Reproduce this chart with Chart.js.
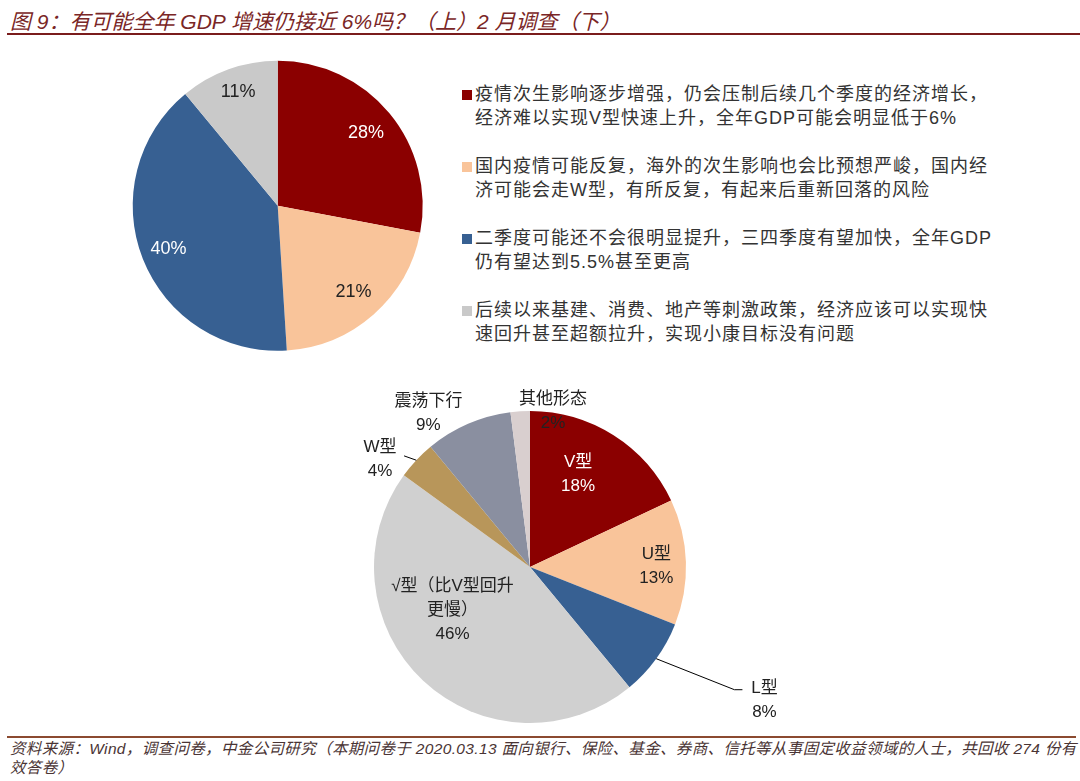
<!DOCTYPE html>
<html>
<head>
<meta charset="utf-8">
<script src="https://cdn.jsdelivr.net/npm/chart.js@4"></script>
<style>
  html, body { margin: 0; padding: 0; background: #fff; }
  body { width: 1080px; height: 781px; position: relative; overflow: hidden;
         font-family: "Liberation Sans", "Noto Sans CJK SC", sans-serif; }
  #title { position: absolute; left: 10px; top: 5px; font-size: 21px; font-style: italic;
           color: #7a2626; white-space: nowrap; }
  #title-line { position: absolute; left: 7px; right: 0; top: 33px; height: 2px; background: #7a1c1c; }
  #top-wrap { position: absolute; left: 0; top: 40px; }
  #bottom-wrap { position: absolute; left: 300px; top: 375px; }
  #legend { position: absolute; left: 462px; top: 82px; width: 600px; }
  .item { position: relative; height: 72px; }
  .item .box { position: absolute; left: 0; top: 8px; width: 10px; height: 10px; }
  .item .txt { position: absolute; left: 13px; top: 0; font-size: 18px; line-height: 24px;
               letter-spacing: 1px; color: #333; white-space: nowrap; }
  #foot-line { position: absolute; left: 7px; right: 4px; top: 736px; height: 2px; background: #8b4a30; }
  #foot { position: absolute; left: 10px; top: 739px; width: 1070px; font-size: 15.5px; line-height: 19px;
          letter-spacing: 0.35px; font-style: italic; color: #4a3434; white-space: nowrap; }
</style>
</head>
<body>
<div id="title">图 9：有可能全年 GDP 增速仍接近 6%吗？（上）2 月调查（下）</div>
<div id="title-line"></div>

<div id="top-wrap"><canvas id="chart-top" width="440" height="330"></canvas></div>
<div id="legend"></div>
<div id="bottom-wrap"><canvas id="chart-bottom" width="560" height="355"></canvas></div>

<div id="foot-line"></div>
<div id="foot">资料来源：Wind，调查问卷，中金公司研究（本期问卷于 2020.03.13 面向银行、保险、基金、券商、信托等从事固定收益领域的人士，共回收 274 份有<br>效答卷）</div>

<script>
// ---- 上图：全年 GDP 看法 ----
const topLabels = [
    ['疫情次生影响逐步增强，仍会压制后续几个季度的经济增长，', '经济难以实现V型快速上升，全年GDP可能会明显低于6%'],
    ['国内疫情可能反复，海外的次生影响也会比预想严峻，国内经', '济可能会走W型，有所反复，有起来后重新回落的风险'],
    ['二季度可能还不会很明显提升，三四季度有望加快，全年GDP', '仍有望达到5.5%甚至更高'],
    ['后续以来基建、消费、地产等刺激政策，经济应该可以实现快', '速回升甚至超额拉升，实现小康目标没有问题']
];
const topValues = [28, 21, 40, 11];
const topColors = ['#8B0000', '#F9C49A', '#376092', '#C9C9C9'];

// ---- 下图：经济走势形态 ----
const bottomLabels = ['V型', 'U型', 'L型', '√型（比V型回升\n更慢）', 'W型', '震荡下行', '其他形态'];
const bottomValues = [18, 13, 8, 46, 4, 9, 2];
const bottomColors = ['#8B0000', '#F9C49A', '#376092', '#D0D0D0', '#B8965A', '#8A8FA0', '#D9CFCF'];

const FONT = '"Liberation Sans", "Noto Sans CJK SC", sans-serif';

// 标签摆放：r = 半径倍数, da = 角度微调(度), leader = 引线折点(相对标签中心)
const topPlace = [
    { r: 0.79, da: 0, color: '#fff' },
    { r: 0.79, da: 0, color: '#222' },
    { r: 0.81, da: 0, color: '#fff' },
    { r: 0.83, da: 0.6, color: '#222' }
];
const bottomPlace = [
    { r: 0.67, da: -5, color: '#fff' },
    { r: 0.81, da: 1.3, color: '#222' },
    { r: 1.73, da: -6.3, color: '#222', leader: [[-30, -11], [-22, -11]] },
    { r: 0.57, da: 17.4, color: '#222' },
    { r: 1.185, da: -7.4, color: '#222', leader: [[24, -3]] },
    { r: 1.18, da: -10.1, color: '#222' },
    { r: 1.01, da: 12, color: '#222' }
];

/**
 * 自定义插件：在扇区上画百分比和名称
 */
const sliceLabels = {
    id: 'sliceLabels',
    afterDatasetsDraw(chart, args, opts) {
        const ctx = chart.ctx;
        const meta = chart.getDatasetMeta(0);
        const values = chart.data.datasets[0].data;
        meta.data.forEach((arc, i) => {
            const p = opts.place[i];
            const mid = (arc.startAngle + arc.endAngle) / 2 + p.da * Math.PI / 180;
            const rr = arc.outerRadius * p.r;
            const x = arc.x + Math.cos(mid) * rr;
            const y = arc.y + Math.sin(mid) * rr;

            // 引线
            if (p.leader) {
                const m0 = (arc.startAngle + arc.endAngle) / 2;
                ctx.save();
                ctx.strokeStyle = '#000';
                ctx.lineWidth = 1;
                ctx.beginPath();
                ctx.moveTo(arc.x + Math.cos(m0) * arc.outerRadius, arc.y + Math.sin(m0) * arc.outerRadius);
                p.leader.forEach(pt => ctx.lineTo(x + pt[0], y + pt[1]));
                ctx.stroke();
                ctx.restore();
            }

            const lines = [];
            if (opts.showName) lines.push(...chart.data.labels[i].split('\n'));
            lines.push(values[i] + '%');

            ctx.save();
            ctx.font = opts.fontSize + 'px ' + FONT;
            ctx.fillStyle = p.color;
            ctx.textAlign = 'center';
            ctx.textBaseline = 'middle';
            const lh = opts.lineHeight;
            const y0 = y - (lines.length - 1) * lh / 2;
            lines.forEach((t, k) => ctx.fillText(t, x, y0 + k * lh));
            ctx.restore();
        });
    }
};

function createPie(canvasId, labels, values, colors, padding, labelOpts) {
    const canvas = document.getElementById(canvasId);
    return new Chart(canvas.getContext('2d'), {
        type: 'pie',
        data: {
            labels: labels,
            datasets: [{
                data: values,
                backgroundColor: colors,
                borderWidth: 0
            }]
        },
        options: {
            responsive: false,
            animation: false,
            events: [],
            layout: { padding: padding },
            plugins: {
                legend: { display: false },
                tooltip: { enabled: false },
                sliceLabels: labelOpts
            }
        },
        plugins: [sliceLabels]
    });
}

createPie('chart-top', topLabels.map(l => l.join('')), topValues, topColors,
    { left: 132.7, right: 17.3, top: 20.7, bottom: 19.3 },
    { place: topPlace, showName: false, fontSize: 18, lineHeight: 24 });

createPie('chart-bottom', bottomLabels, bottomValues, bottomColors,
    { left: 74, right: 174, top: 36, bottom: 7 },
    { place: bottomPlace, showName: true, fontSize: 17, lineHeight: 24 });

// HTML 图例（上图）
const legend = document.getElementById('legend');
topLabels.forEach((lines, i) => {
    const item = document.createElement('div');
    item.className = 'item';
    item.innerHTML = `<div class="box" style="background:${topColors[i]}"></div>` +
        `<div class="txt">${lines.join('<br>')}</div>`;
    legend.appendChild(item);
});
</script>
</body>
</html>
